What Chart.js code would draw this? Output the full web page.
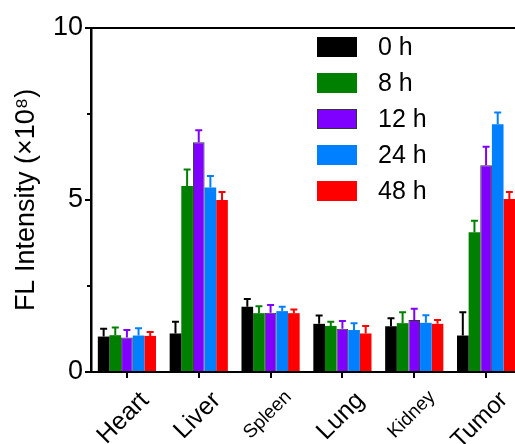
<!DOCTYPE html>
<html>
<head>
<meta charset="utf-8">
<script src="https://cdn.jsdelivr.net/npm/chart.js@4.4.1/dist/chart.umd.min.js"></script>
<style>
html,body{margin:0;padding:0;overflow:hidden;background:#fff;}
#wrap{position:relative;width:522px;height:444px;}
</style>
</head>
<body>
<div id="wrap"><canvas id="c"></canvas></div>
<script>
const categories = ['Heart', 'Liver', 'Spleen', 'Lung', 'Kidney', 'Tumor'];
const seriesLabels = ['0 h', '8 h', '12 h', '24 h', '48 h'];
const seriesColors = ['#000000', '#008000', '#8000ff', '#0080ff', '#ff0000'];
const v0h  = [1.03, 1.12, 1.90, 1.40, 1.33, 1.06];
const v8h  = [1.07, 5.41, 1.71, 1.34, 1.42, 4.06];
const v12h = [1.00, 6.68, 1.72, 1.26, 1.51, 6.01];
const v24h = [1.06, 5.36, 1.77, 1.22, 1.43, 7.20];
const v48h = [1.05, 5.00, 1.71, 1.12, 1.40, 5.03];
const e0h  = [0.23, 0.34, 0.22, 0.24, 0.23, 0.68];
const e8h  = [0.22, 0.48, 0.20, 0.12, 0.32, 0.34];
const e12h = [0.22, 0.35, 0.23, 0.22, 0.33, 0.54];
const e24h = [0.21, 0.34, 0.13, 0.20, 0.22, 0.34];
const e48h = [0.11, 0.23, 0.11, 0.22, 0.11, 0.20];
const yTicks = [0, 5, 10];
const yMinorTicks = [2.5, 7.5];

const values = [v0h, v8h, v12h, v24h, v48h];
const errors = [e0h, e8h, e12h, e24h, e48h];
const FONT = '"Liberation Sans", Arial, sans-serif';

const datasets = seriesLabels.map((lab, i) => ({
  label: lab,
  data: values[i],
  errors: errors[i],
  backgroundColor: seriesColors[i],
  borderColor: i === 2 ? '#333333' : seriesColors[i],
  borderWidth: i === 2 ? 1 : 0,
  barPercentage: 1.0,
  categoryPercentage: 0.81
}));

const errorPlugin = {
  id: 'errorBars',
  afterDatasetsDraw(chart) {
    const ctx = chart.ctx;
    const y = chart.scales.y;
    chart.data.datasets.forEach((ds, di) => {
      const meta = chart.getDatasetMeta(di);
      meta.data.forEach((bar, j) => {
        const top = y.getPixelForValue(ds.data[j] + ds.errors[j]);
        const base = y.getPixelForValue(ds.data[j]);
        const half = bar.width * 0.3;
        ctx.save();
        ctx.strokeStyle = ds.backgroundColor;
        ctx.lineWidth = 2;
        ctx.beginPath();
        ctx.moveTo(bar.x, base);
        ctx.lineTo(bar.x, top);
        ctx.moveTo(bar.x - half, top);
        ctx.lineTo(bar.x + half, top);
        ctx.stroke();
        ctx.restore();
      });
    });
  }
};

const framePlugin = {
  id: 'frame',
  afterDraw(chart) {
    const ctx = chart.ctx;
    const a = chart.chartArea;
    const y = chart.scales.y;
    ctx.save();
    ctx.strokeStyle = '#000';
    ctx.lineWidth = 2;
    ctx.beginPath();
    ctx.moveTo(a.left - 2, a.top);
    ctx.lineTo(chart.width, a.top);
    ctx.stroke();
    yMinorTicks.forEach(v => {
      const py = y.getPixelForValue(v);
      ctx.beginPath();
      ctx.moveTo(a.left - 4, py);
      ctx.lineTo(a.left, py);
      ctx.stroke();
    });
    const lx = 317, ly = 37, rowH = 36;
    ctx.font = '25px ' + FONT;
    ctx.textBaseline = 'middle';
    ctx.textAlign = 'left';
    chart.data.datasets.forEach((ds, i) => {
      const yy = ly + i * rowH;
      ctx.fillStyle = ds.backgroundColor;
      ctx.fillRect(lx, yy, 40, 20);
      if (i === 2) { ctx.lineWidth = 1; ctx.strokeStyle = '#333'; ctx.strokeRect(lx + 0.5, yy + 0.5, 39, 19); }
      ctx.fillStyle = '#000';
      ctx.fillText(ds.label, lx + 61, yy + 11);
    });
    ctx.restore();
  }
};

new Chart(document.getElementById('c'), {
  type: 'bar',
  data: { labels: categories, datasets },
  plugins: [errorPlugin, framePlugin],
  options: {
    responsive: true,
    maintainAspectRatio: false,
    animation: false,
    layout: { padding: { top: 28, right: 0, left: 10, bottom: 0 } },
    plugins: { legend: { display: false }, tooltip: { enabled: false } },
    scales: {
      x: {
        offset: true,
        afterFit: (s) => { s.height = 72; },
        grid: { display: true, drawOnChartArea: false, offset: false, tickLength: 6, color: '#000', lineWidth: 2 },
        border: { display: true, color: '#000', width: 2 },
        ticks: {
          color: '#000',
          maxRotation: 45, minRotation: 45,
          padding: 8,
          labelOffset: 18,
          font: (c) => {
            const lab = categories[c.index];
            let size = 25;
            if (lab === 'Spleen' || lab === 'Kidney') size = 19;
            if (lab === 'Tumor') size = 24;
            return { family: FONT, size };
          }
        }
      },
      y: {
        min: 0, max: 10,
        afterFit: (s) => { s.width = 81; },
        afterBuildTicks: (s) => { s.ticks = yTicks.map(v => ({ value: v })); },
        grid: { display: true, drawOnChartArea: false, tickLength: 6, color: '#000', lineWidth: 2 },
        border: { display: true, color: '#000', width: 2.5 },
        ticks: { color: '#000', padding: 2, font: { family: FONT, size: 27 } },
        title: { display: true, text: 'FL Intensity (×10⁸)', color: '#000', padding: { top: 0, bottom: 4 }, font: { family: FONT, size: 27 } }
      }
    }
  }
});
</script>
</body>
</html>
